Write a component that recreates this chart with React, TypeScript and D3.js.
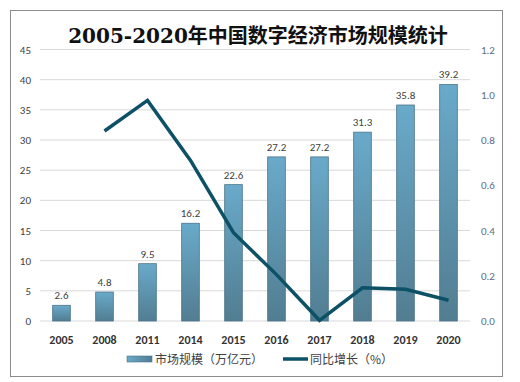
import React from "react";
import * as d3 from "d3";

const categories = ["2005", "2008", "2011", "2014", "2015", "2016", "2017", "2018", "2019", "2020"];
const marketSize = [2.6, 4.8, 9.5, 16.2, 22.6, 27.2, 27.2, 31.3, 35.8, 39.2];
const growth: (number | null)[] = [null, 0.84, 0.975, 0.71, 0.39, 0.205, 0.003, 0.147, 0.14, 0.092];
const leftTicks = [0, 5, 10, 15, 20, 25, 30, 35, 40, 45];
const rightTicks = [0, 0.2, 0.4, 0.6, 0.8, 1.0, 1.2];
const title = "2005-2020年中国数字经济市场规模统计";
const legendBar = "市场规模（万亿元）";
const legendLine = "同比增长（%）";

export default function App() {
  const W = 520, H = 382;
  const left = 40, right = 470, top = 49.5, bottom = 321;
  const x = d3.scaleBand<string>().domain(categories).range([left, right]).paddingInner(0.59).paddingOuter(0.295);
  const yL = d3.scaleLinear().domain([0, 45]).range([bottom, top]);
  const yR = d3.scaleLinear().domain([0, 1.2]).range([bottom, top]);
  const line = d3
    .line<number | null>()
    .defined((d) => d !== null)
    .x((_, i) => (x(categories[i]) as number) + x.bandwidth() / 2)
    .y((d) => yR(d as number));
  const font = "'Noto Sans CJK SC', 'Noto Sans', sans-serif";
  const numFont = "Calibri, 'Liberation Sans', 'DejaVu Sans', sans-serif";
  return (
    <svg width={W} height={H} style={{ position: "absolute", left: 0, top: 0 }}>
      <defs>
        <linearGradient id="barG" x1="0" y1="0" x2="0" y2="1">
          <stop offset="0" stopColor="#69AACA" />
          <stop offset="1" stopColor="#527D91" />
        </linearGradient>
        <linearGradient id="legG" x1="0" y1="0" x2="1" y2="0">
          <stop offset="0" stopColor="#69AACA" />
          <stop offset="1" stopColor="#527D91" />
        </linearGradient>
      </defs>
      <rect x={0} y={0} width={W} height={H} fill="#fff" />
      <rect x={10.5} y={10.5} width={492} height={366} fill="#fff" stroke="#8c8c8c" strokeWidth={1} />
      <text
        x={258}
        y={43}
        textAnchor="middle"
        fontSize={20}
        fontWeight="bold"
        fill="#111"
        fontFamily="'DejaVu Serif', 'Noto Sans CJK SC', serif"
      >
        {title}
      </text>
      {leftTicks.map((t) => (
        <g key={"l" + t}>
          <line x1={left} x2={right} y1={yL(t)} y2={yL(t)} stroke="#d9d9d9" strokeWidth={1} />
          <text x={31} y={yL(t) + 4} textAnchor="end" fontSize={11} fill="#404040" fontFamily={numFont}>
            {t}
          </text>
        </g>
      ))}
      {rightTicks.map((t) => (
        <text key={"r" + t} x={481} y={yR(t) + 4} textAnchor="start" fontSize={11} fill="#5B6B86" fontFamily={numFont}>
          {t.toFixed(1)}
        </text>
      ))}
      {categories.map((c, i) => {
        const bx = x(c) as number;
        const v = marketSize[i];
        return (
          <g key={c}>
            <rect
              x={bx}
              y={yL(v)}
              width={x.bandwidth()}
              height={bottom - yL(v)}
              fill="url(#barG)"
              stroke="#4A7489"
              strokeWidth={0.8}
            />
            <text
              x={bx + x.bandwidth() / 2}
              y={yL(v) - 6}
              textAnchor="middle"
              fontSize={11}
              fill="#404040"
              fontFamily={numFont}
            >
              {v.toFixed(1)}
            </text>
            <text
              x={bx + x.bandwidth() / 2}
              y={344}
              textAnchor="middle"
              fontSize={12}
              fontWeight="bold"
              fill="#333"
              fontFamily={numFont}
            >
              {c}
            </text>
          </g>
        );
      })}
      <path d={line(growth) || ""} fill="none" stroke="#0C5166" strokeWidth={3.5} strokeLinejoin="miter" />
      <rect x={127} y={356} width={25} height={6} fill="url(#legG)" stroke="#4A7489" strokeWidth={0.6} />
      <text x={155} y={363.5} fontSize={12} fill="#404040" fontFamily={font}>
        {legendBar}
      </text>
      <line x1={283} x2={308} y1={359} y2={359} stroke="#0C5166" strokeWidth={3.5} />
      <text x={310} y={363.5} fontSize={12} fill="#404040" fontFamily={font}>
        {legendLine}
      </text>
    </svg>
  );
}
